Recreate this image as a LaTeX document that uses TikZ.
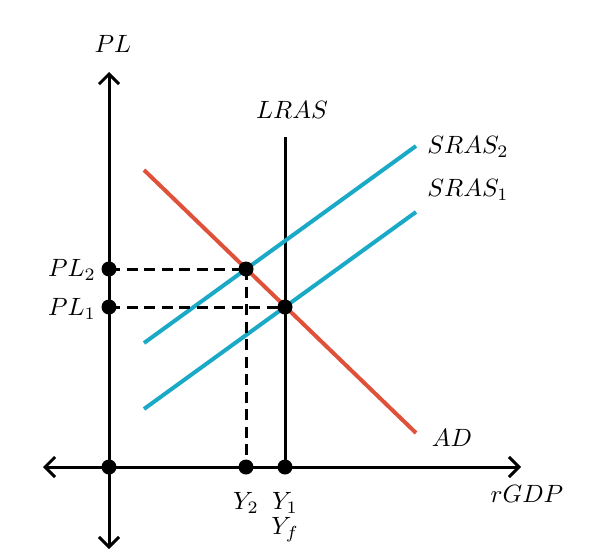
\documentclass[tikz,border=0pt]{standalone}
\usetikzlibrary{arrows.meta}
\definecolor{adred}{HTML}{E0513A}
\definecolor{ascyan}{HTML}{1AA9C6}
\tikzset{
  axis/.style={line width=1.2pt, -{Straight Barb[length=4pt,width=8pt,line width=1.2pt]}},
  curve/.style={line width=1.6pt},
  dot/.style={circle, fill=black, inner sep=0pt, minimum size=6pt},
  guide/.style={line width=1.2pt, dash pattern=on 4.4pt off 2.6pt},
  lab/.style={inner sep=0pt, font=\fontsize{9.8}{12}\selectfont}
}
\begin{document}
\begin{tikzpicture}[x=0.4pt, y=-0.4pt]
\useasboundingbox (0,0) rectangle (600,553);
% axes coordinates
\coordinate (vtop) at (109,72);
\coordinate (vbot) at (109,549);
\coordinate (hl) at (43,467);
\coordinate (hr) at (521,467);
\coordinate (c) at (109,467);
\draw[axis] (c) -- (vtop);
\draw[axis] (c) -- (vbot);
\draw[axis] (c) -- (hl);
\draw[axis] (c) -- (hr);
% curves
\coordinate (lrasT) at (285,137);
\coordinate (lrasB) at (285,467);
\draw[line width=1.2pt] (lrasT) -- (lrasB);
\coordinate (adA) at (144,170);
\coordinate (adB) at (416,433);
\draw[curve, adred] (adA) -- (adB);
\coordinate (s1A) at (144,409);
\coordinate (s1B) at (416,212);
\draw[curve, ascyan] (s1A) -- (s1B);
\coordinate (s2A) at (144,343);
\coordinate (s2B) at (416,146);
\draw[curve, ascyan] (s2A) -- (s2B);
% dashed guides
\draw[guide] (109,269) -- (246,269);
\draw[guide] (246,269) -- (246,467);
\draw[guide] (109,307) -- (285,307);
% dots
\node[dot] (o) at (109,467) {};
\node[dot] (y2) at (246,467) {};
\node[dot] (y1) at (285,467) {};
\node[dot] (pl2) at (109,269) {};
\node[dot] (pl1) at (109,307) {};
\node[dot] (e2) at (246,269) {};
\node[dot] (e1) at (285,307) {};
% labels
\node[lab] (lPL) at (113,44) {$PL$};
\node[lab] (lLRAS) at (292,110) {$LRAS$};
\node[lab] (lS2) at (468,147) {$SRAS_2$};
\node[lab] (lS1) at (468,190) {$SRAS_1$};
\node[lab] (lAD) at (452,438) {$AD$};
\node[lab] (lrGDP) at (527,494) {$rGDP$};
\node[lab] (lY2) at (246,503) {$Y_2$};
\node[lab] (lY1) at (285,503) {$Y_1$};
\node[lab] (lYf) at (285,530) {$Y_f$};
\node[lab] (lPL2) at (72,270) {$PL_2$};
\node[lab] (lPL1) at (72,309) {$PL_1$};
\end{tikzpicture}
\end{document}
